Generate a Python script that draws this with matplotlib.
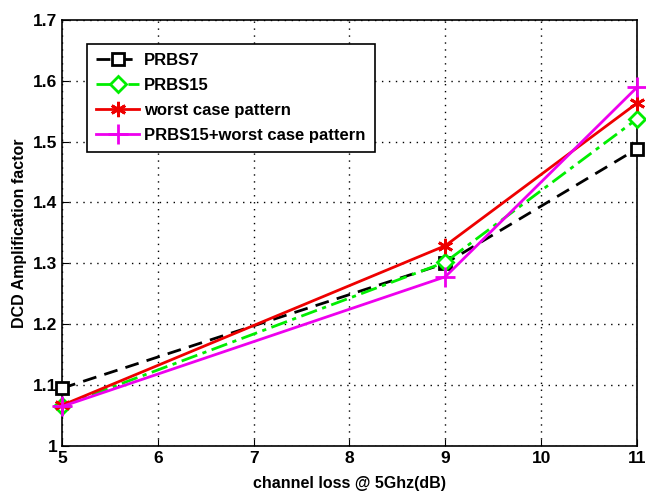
import matplotlib
matplotlib.use("Agg")
import matplotlib.pyplot as plt

x = [5, 9, 11]
prbs7 = [1.095, 1.300, 1.488]
prbs15 = [1.066, 1.302, 1.537]
worst = [1.067, 1.329, 1.563]
prbs15_worst = [1.065, 1.278, 1.589]
labels = ["PRBS7", "PRBS15", "worst case pattern", "PRBS15+worst case pattern"]

plt.rcParams['font.family'] = ['Liberation Sans', 'DejaVu Sans']
plt.rcParams['font.weight'] = 'bold'

fig = plt.figure(figsize=(6.46, 4.94), dpi=100)
ax = fig.add_axes([0.096, 0.097, 0.890, 0.863])

ax.plot(x, prbs7, color='black', linestyle=(0, (5, 3)), linewidth=2, marker='s',
        markersize=9, markerfacecolor='white', markeredgecolor='black', markeredgewidth=2,
        label=labels[0], clip_on=False, zorder=3)
ax.plot(x, prbs15, color='#00ee00', linestyle=(0, (6, 2, 1.5, 2)), linewidth=2, marker='D',
        markersize=8, markerfacecolor='white', markeredgecolor='#00ee00', markeredgewidth=2,
        label=labels[1], clip_on=False, zorder=3)
ax.plot(x, worst, color='#ee0000', linestyle='-', linewidth=2, marker=(6, 2, 0),
        markersize=11, markeredgewidth=2, markeredgecolor='#ee0000', label=labels[2],
        clip_on=False, zorder=3)
ax.plot(x, prbs15_worst, color='#ee00ee', linestyle='-', linewidth=2, marker='+',
        markersize=14, markeredgewidth=2, label=labels[3], clip_on=False, zorder=3)

ax.set_xlim(5, 11)
ax.set_ylim(1, 1.7)
ax.set_xticks([5, 6, 7, 8, 9, 10, 11])
ax.set_yticks([1, 1.1, 1.2, 1.3, 1.4, 1.5, 1.6, 1.7])
ax.set_yticklabels(['1', '1.1', '1.2', '1.3', '1.4', '1.5', '1.6', '1.7'])
ax.tick_params(direction='in', labelsize=12.5, length=5)
for lab in ax.get_xticklabels() + ax.get_yticklabels():
    lab.set_fontweight('bold')
ax.grid(True, linestyle=(0, (1, 4)), color='black', linewidth=1)
ax.set_xlabel('channel loss @ 5Ghz(dB)', fontsize=11.5, fontweight='bold', labelpad=7)
ax.set_ylabel('DCD Amplification factor', fontsize=11.5, fontweight='bold', labelpad=4)
for s in ax.spines.values():
    s.set_linewidth(1.2)

leg = ax.legend(loc='upper left', bbox_to_anchor=(0.043, 0.943), fontsize=12, frameon=True,
                fancybox=False, edgecolor='black', framealpha=1, handlelength=2.6,
                borderpad=0.55, labelspacing=0.6, handletextpad=0.3, borderaxespad=0)
leg.get_frame().set_linewidth(1.2)
for t in leg.get_texts():
    t.set_fontweight('bold')

fig.savefig('out.png', dpi=100)
